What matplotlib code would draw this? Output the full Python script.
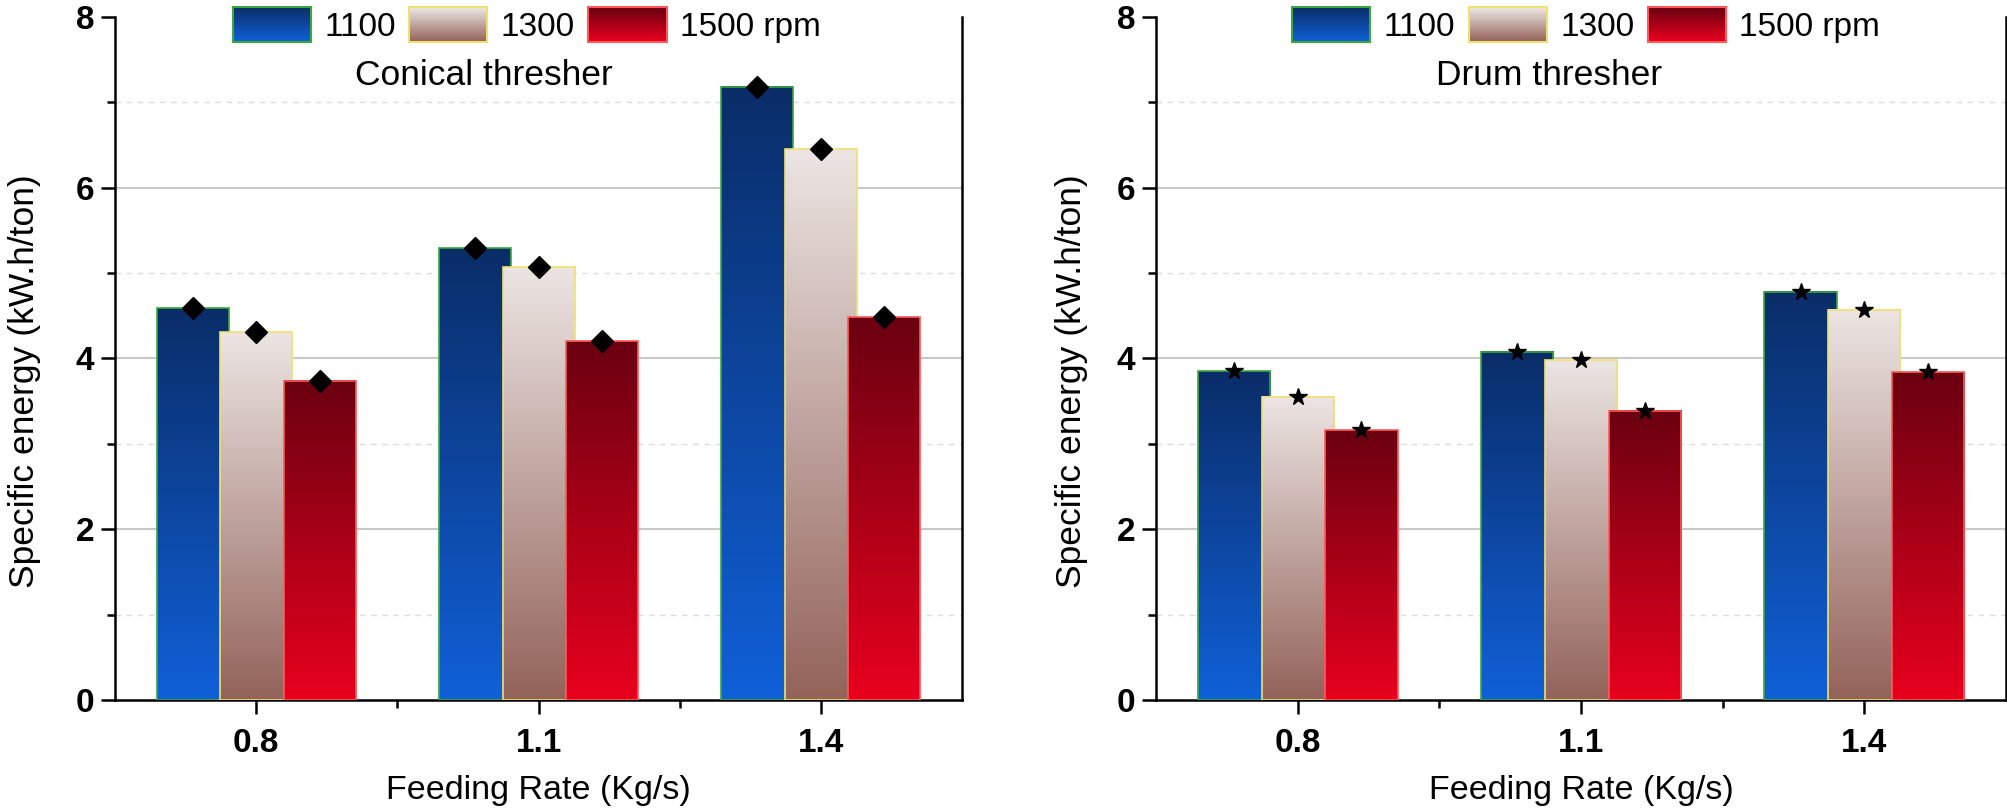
import matplotlib
matplotlib.use('Agg')
import matplotlib.pyplot as plt
import numpy as np
from matplotlib.colors import LinearSegmentedColormap
from matplotlib.patches import Rectangle, Patch

plt.rcParams['font.family'] = ['Liberation Sans', 'DejaVu Sans']

# data
feed_rates = ['0.8', '1.1', '1.4']
speeds = ['1100', '1300', '1500 rpm']
conical = [
    [4.59, 5.29, 7.18],   # 1100
    [4.31, 5.07, 6.45],   # 1300
    [3.74, 4.20, 4.48],   # 1500
]
drum = [
    [3.85, 4.08, 4.78],
    [3.55, 3.98, 4.57],
    [3.16, 3.39, 3.84],
]
panel_titles = ['Conical thresher', 'Drum thresher']
panel_markers = ['D', '*']

# gradient colours (bottom, top) and edge colour for each speed
grad_bottom = ['#1060d8', '#93635a', '#e8001e']
grad_top = ['#0a2d68', '#ece5e3', '#6a0010']
edges = ['#3aa83a', '#f0e070', '#ff5a5a']

cmaps = [LinearSegmentedColormap.from_list('g%d' % i, [grad_bottom[i], grad_top[i]])
         for i in range(3)]
grad = np.linspace(0, 1, 256).reshape(-1, 1)


class GradHandler:
    def __init__(self, cmap, edge):
        self.cmap = cmap
        self.edge = edge

    def legend_artist(self, legend, orig_handle, fontsize, handlebox):
        x0, y0 = -handlebox.xdescent, -handlebox.ydescent
        w, h = handlebox.width, handlebox.height
        n = 40
        tr = handlebox.get_transform()
        for i in range(n):
            r = Rectangle((x0, y0 + h * i / n), w, h / n * 1.3,
                          facecolor=self.cmap(i / (n - 1)), edgecolor='none',
                          antialiased=False, transform=tr)
            handlebox.add_artist(r)
        box = Rectangle((x0, y0), w, h, fill=False, edgecolor=self.edge,
                        lw=1.5, transform=tr)
        handlebox.add_artist(box)
        return box


fig = plt.figure(figsize=(20.08, 8.11), dpi=100)
positions = [[0.0573, 0.1369, 0.4218, 0.8422], [0.5757, 0.1369, 0.4233, 0.8422]]
legend_x = [0.486, 0.506]
title_x = [0.436, 0.462]
ylabel_x = [-0.107, -0.1]

x = np.arange(len(feed_rates))
width = 0.255
offset = 0.225

for p, data in enumerate([conical, drum]):
    ax = fig.add_axes(positions[p])
    for i in range(3):
        bars = ax.bar(x + (i - 1) * offset, data[i], width, fill=False,
                      edgecolor=edges[i], linewidth=1.2, zorder=3 + 2 * i)
        for b in bars:
            ax.imshow(grad, cmap=cmaps[i], origin='lower', aspect='auto',
                      interpolation='bilinear',
                      extent=(b.get_x(), b.get_x() + b.get_width(), 0, b.get_height()),
                      zorder=2.9 + 2 * i)
        ax.plot(x + (i - 1) * offset, data[i], linestyle='none',
                marker=panel_markers[p], color='black',
                markersize=11.5 if p == 0 else 13, zorder=20, clip_on=False)

    ax.set_xlim(-0.5, 2.5)
    ax.set_ylim(0, 8)
    ax.set_xticks(x)
    ax.set_xticklabels(feed_rates)
    ax.set_xticks([0.5, 1.5], minor=True)
    ax.set_yticks([0, 2, 4, 6, 8])
    ax.set_yticks([1, 3, 5, 7], minor=True)

    for v in [2, 4, 6]:
        ax.axhline(v, color='#c8c8c8', lw=1.5, zorder=1)
    for v in [1, 3, 5, 7]:
        ax.axhline(v, color='#dcdcdc', lw=1.0, ls=(0, (4, 4)), zorder=1)

    ax.spines['top'].set_visible(False)
    for s in ['left', 'bottom', 'right']:
        ax.spines[s].set_linewidth(1.8)
    ax.tick_params(axis='both', which='major', direction='out', length=10, width=1.8,
                   labelsize=24, pad=5)
    ax.tick_params(axis='both', which='minor', direction='out', length=6, width=1.8)
    ax.tick_params(axis='x', which='major', pad=10)
    for lab in ax.get_xticklabels() + ax.get_yticklabels():
        lab.set_fontweight('bold')

    ax.set_xlabel('Feeding Rate (Kg/s)', fontsize=24.5, labelpad=12)
    ax.set_ylabel('Specific energy (kW.h/ton)', fontsize=25.5, va='center')
    ax.yaxis.set_label_coords(ylabel_x[p], 0.467)

    ax.text(title_x[p], 0.915, panel_titles[p], transform=ax.transAxes,
            ha='center', va='center', fontsize=25.5)

    handles = [Patch(label=s) for s in speeds]
    hmap = {handles[i]: GradHandler(cmaps[i], edges[i]) for i in range(3)}
    ax.legend(handles=handles, handler_map=hmap, loc='center',
              bbox_to_anchor=(legend_x[p], 0.988), ncol=3, frameon=False,
              fontsize=24, handlelength=2.35, handleheight=1.2,
              handletextpad=0.4, columnspacing=0.4, borderpad=0)

fig.savefig('out.png', dpi=100)
